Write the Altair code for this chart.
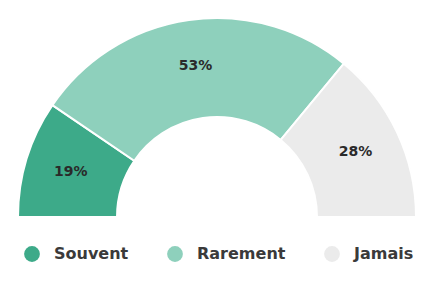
import math
import altair as alt
import pandas as pd

categories = ["Souvent", "Rarement", "Jamais"]
values = [19, 53, 28]
labels = ["19%", "53%", "28%"]
colors = ["#3DAA89", "#8ED0BC", "#EBEBEB"]

df = pd.DataFrame({"cat": categories, "value": values, "label": labels, "ord": list(range(len(categories)))})

cx, cy = 209, 209
theta = alt.Theta("value:Q", stack=True, scale=alt.Scale(range=[-math.pi / 2, math.pi / 2]))
color = alt.Color(
    "cat:N",
    scale=alt.Scale(domain=categories, range=colors),
    sort=categories,
    legend=alt.Legend(
        title=None,
        orient="none",
        direction="horizontal",
        legendX=16,
        legendY=238,
        symbolType="circle",
        symbolSize=250,
        symbolStrokeWidth=0,
        labelFont="DejaVu Sans",
        labelFontSize=16,
        labelFontWeight="bold",
        labelColor="#3a3a3a",
        labelOffset=14,
        columnPadding=38,
    ),
)

base = alt.Chart(df).encode(theta=theta, order=alt.Order("ord:Q"))

arcs = base.mark_arc(outerRadius=199, innerRadius=100, stroke="white", strokeWidth=2).encode(
    color=color, x=alt.value(cx), y=alt.value(cy)
)

text = base.mark_text(
    radius=153, font="DejaVu Sans", fontSize=14, fontWeight="bold", color="#2a2a2a"
).encode(text="label:N", x=alt.value(cx), y=alt.value(cy))

chart = (
    alt.layer(arcs, text)
    .properties(width=413, height=266, padding=0)
    .configure_view(stroke=None)
)

chart.save("out.html", embed_options={"renderer": "svg", "actions": False})
